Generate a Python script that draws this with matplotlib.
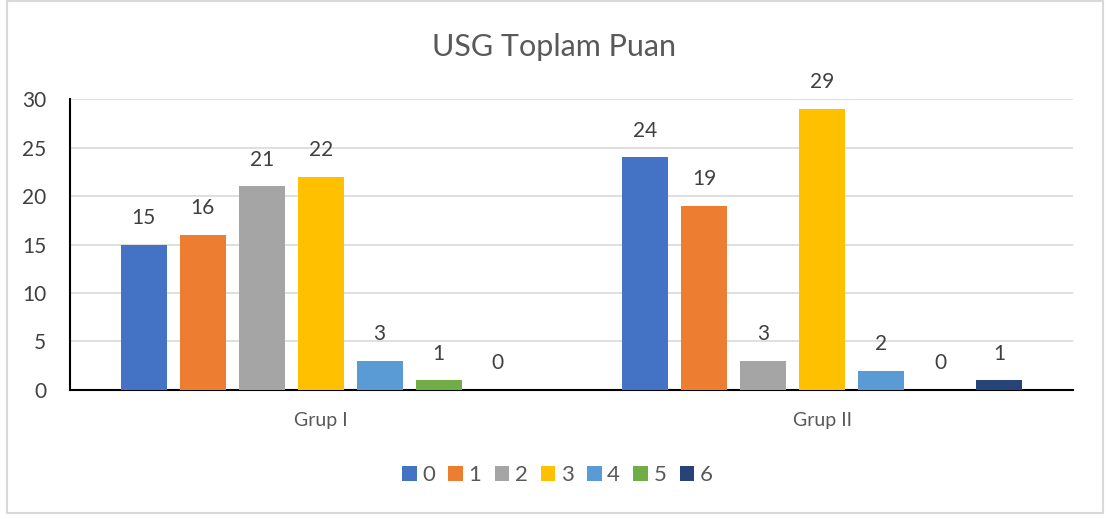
# Grouped bar chart: USG Toplam Puan by group
import matplotlib
matplotlib.use("Agg")
import matplotlib.pyplot as plt
import numpy as np
from matplotlib.patches import Rectangle

groups = ["Grup I", "Grup II"]
series = ["0", "1", "2", "3", "4", "5", "6"]
values = {
    "0": [15, 24],
    "1": [16, 19],
    "2": [21, 3],
    "3": [22, 29],
    "4": [3, 2],
    "5": [1, 0],
    "6": [0, 1],
}
colors = ["#4472C4", "#ED7D31", "#A5A5A5", "#FFC000", "#5B9BD5", "#70AD47", "#264478"]

plt.rcParams['font.family'] = ['Lato', 'DejaVu Sans']
text_color = "#595959"

fig = plt.figure(figsize=(11.07, 5.19), dpi=100)
ax = fig.add_axes([0.0632, 0.2486, 0.906, 0.5606])

x = np.arange(len(groups))
step = 0.1176
width = 0.0917
for i, s in enumerate(series):
    pos = x + (i - 3) * step
    bars = ax.bar(pos, values[s], width, color=colors[i], label=s, zorder=3)
    for b, v in zip(bars, values[s]):
        ax.annotate(str(v), (b.get_x() + b.get_width() / 2, v),
                    xytext=(0, 12), textcoords="offset points",
                    ha="center", va="bottom", fontsize=15, color="#404040")

ax.set_xlim(-0.5, 1.5)
ax.set_ylim(0, 30)
ax.set_yticks(range(0, 31, 5))
ax.set_xticks(x)
ax.set_xticklabels(groups)
ax.tick_params(axis="x", length=0, pad=16, labelsize=14, labelcolor=text_color)
ax.tick_params(axis="y", length=0, pad=17, labelsize=15, labelcolor="#404040")
ax.grid(axis="y", color="#D9D9D9", linewidth=1.2, zorder=0)
for side in ["top", "right"]:
    ax.spines[side].set_visible(False)
ax.spines["left"].set_color("black")
ax.spines["bottom"].set_color("black")
ax.spines["left"].set_linewidth(1.5)
ax.spines["bottom"].set_linewidth(1.5)

fig.text(0.5, 0.909, "USG Toplam Puan", ha="center", va="center",
         fontsize=22, color=text_color)

ax.legend(loc="center", bbox_to_anchor=(0.486, -0.292), ncol=7, frameon=False,
          fontsize=16, handlelength=0.65, handleheight=0.65, handletextpad=0.25,
          columnspacing=0.6, labelcolor=text_color)

fig.patches.append(Rectangle((0.006, 0.012), 0.99, 0.986, transform=fig.transFigure,
                             fill=False, edgecolor="#D9D9D9", linewidth=1.5))

fig.savefig("out.png", dpi=100)
